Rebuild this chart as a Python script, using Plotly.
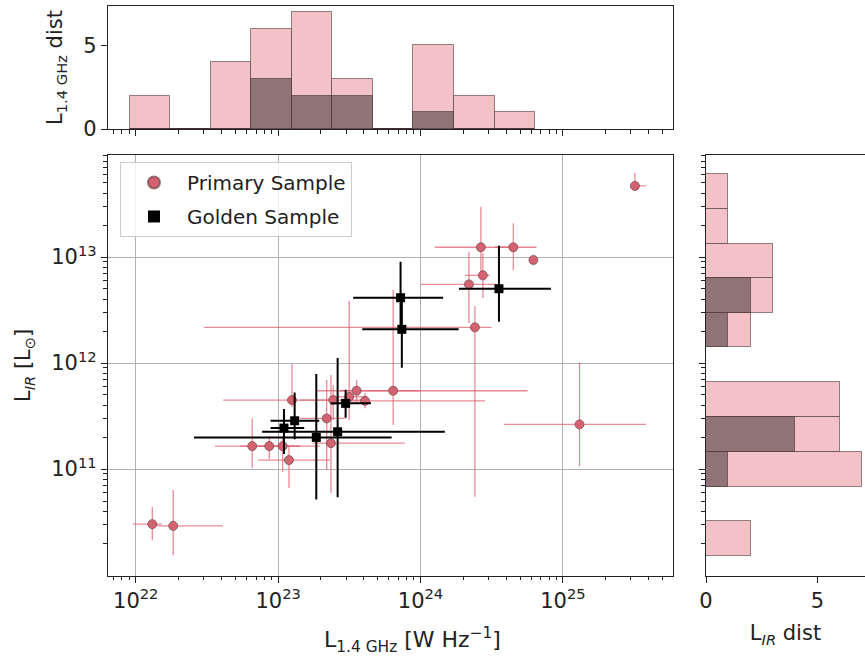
import numpy as np
import plotly.graph_objects as go

# ---------------- data (log10 values) ----------------
# Primary sample: L_1.4GHz [W/Hz] and L_IR [Lsun], with lower/upper error-bar ends
prim_logL14 = [22.116, 22.263, 22.818, 22.938, 23.032, 23.076, 23.097, 23.341, 23.371, 23.387, 23.499,
               23.551, 23.610, 23.808, 24.424, 24.652, 24.793, 24.438, 24.340, 24.382, 25.506, 25.117]
prim_logL14_lo = [21.980, 22.149, 22.556, 22.732, 22.802, 22.860, 22.614, 23.153, 23.244, 23.153, 23.399,
                  23.270, 23.434, 23.434, 24.101, 24.522, 24.793, 24.312, 24.003, 22.479, 25.485, 24.586]
prim_logL14_hi = [22.184, 22.612, 23.153, 23.153, 23.294, 23.364, 23.364, 23.469, 23.890, 23.645, 23.610,
                  23.996, 24.452, 24.752, 24.628, 24.815, 24.793, 24.487, 24.534, 24.499, 25.583, 25.583]
prim_logLIR = [10.481, 10.465, 11.217, 11.217, 11.217, 11.085, 11.651, 11.478, 11.245, 11.651, 11.682,
               11.739, 11.644, 11.739, 13.092, 13.092, 12.972, 12.827, 12.742, 12.337, 13.670, 11.422]
prim_logLIR_lo = [10.330, 10.189, 11.009, 11.094, 10.972, 10.821, 11.585, 10.991, 10.774, 11.462, 11.462,
                  11.632, 11.575, 11.415, 12.830, 12.877, 12.972, 12.613, 12.375, 10.739, 13.642, 11.028]
prim_logLIR_hi = [10.642, 10.802, 11.478, 11.311, 11.311, 11.226, 11.991, 11.840, 11.887, 11.792, 12.585,
                  11.840, 11.717, 12.689, 13.475, 13.318, 12.972, 13.038, 13.050, 12.538, 13.792, 12.007]

# Golden sample
gold_logL14 = [24.551, 23.860, 23.869, 23.474, 23.418, 23.041, 23.116, 23.268]
gold_logL14_lo = [24.277, 23.534, 23.598, 23.376, 22.895, 22.954, 22.954, 22.416]
gold_logL14_hi = [24.909, 24.152, 24.261, 23.645, 24.164, 23.176, 23.282, 23.790]
gold_logLIR = [12.701, 12.616, 12.318, 11.620, 11.352, 11.387, 11.456, 11.299]
gold_logLIR_lo = [12.399, 12.311, 11.965, 11.493, 10.745, 11.151, 11.290, 10.724]
gold_logLIR_hi = [13.097, 12.946, 12.623, 11.739, 12.038, 11.557, 11.714, 11.887]

# Histograms (bin edges in log10 units, counts)
l14_bin_edges = [21.959, 22.242, 22.527, 22.811, 23.095, 23.378, 23.665, 23.949, 24.233, 24.521, 24.806]
l14_counts_primary = [2, 0, 4, 6, 7, 3, 0, 5, 2, 1]
l14_counts_golden = [0, 0, 0, 3, 2, 2, 0, 1, 0, 0]

lir_bin_edges = [10.182, 10.509, 10.836, 11.163, 11.493, 11.826, 12.148, 12.475, 12.799, 13.122, 13.450, 13.780]
lir_counts_primary = [2, 0, 7, 6, 6, 0, 2, 3, 3, 1, 1]
lir_counts_golden = [0, 0, 1, 4, 0, 0, 1, 2, 0, 0, 0]

x_tick_labels = ["10<sup>22</sup>", "10<sup>23</sup>", "10<sup>24</sup>", "10<sup>25</sup>"]
y_tick_labels = ["10<sup>11</sup>", "10<sup>12</sup>", "10<sup>13</sup>"]

# ---------------- helpers ----------------
def errs(logv, lo, hi):
    v = 10 ** np.array(logv)
    return v, v - 10 ** np.array(lo), 10 ** np.array(hi) - v

XR = [21.805, 25.770]
YR = [9.995, 13.962]

px, pxm, pxp = errs(prim_logL14, prim_logL14_lo, prim_logL14_hi)
py, pym, pyp = errs(prim_logLIR, prim_logLIR_lo, prim_logLIR_hi)
gx, gxm, gxp = errs(gold_logL14, gold_logL14_lo, gold_logL14_hi)
gy, gym, gyp = errs(gold_logLIR, gold_logLIR_lo, gold_logLIR_hi)

PINK = "rgb(212,98,112)"
PINK_ERR = "rgba(222,100,115,0.75)"
HIST_PINK = "rgb(242,194,198)"
HIST_GOLD = "rgb(143,115,117)"
EDGE = "rgba(60,40,40,0.55)"
AX = "#222222"
FS = 21

fig = go.Figure()

fig.add_trace(go.Scatter(
    x=px, y=py, mode="markers", name="Primary Sample", legendgroup="p",
    marker=dict(symbol="circle", size=9, color=PINK, line=dict(color="rgba(110,70,75,0.7)", width=1)),
    error_x=dict(type="data", symmetric=False, array=pxp, arrayminus=pxm, color=PINK_ERR, thickness=1.3, width=0),
    error_y=dict(type="data", symmetric=False, array=pyp, arrayminus=pym, color=PINK_ERR, thickness=1.3, width=0),
    xaxis="x", yaxis="y"))

fig.add_trace(go.Scatter(
    x=gx, y=gy, mode="markers", name="Golden Sample", legendgroup="g",
    marker=dict(symbol="square", size=9, color="black"),
    error_x=dict(type="data", symmetric=False, array=gxp, arrayminus=gxm, color="black", thickness=2, width=1),
    error_y=dict(type="data", symmetric=False, array=gyp, arrayminus=gym, color="black", thickness=2, width=1),
    xaxis="x", yaxis="y"))

# top histogram
e = np.array(l14_bin_edges)
cx = (e[:-1] + e[1:]) / 2
wx = np.diff(e)
fig.add_trace(go.Bar(x=cx, y=l14_counts_primary, width=wx, marker=dict(color=HIST_PINK, line=dict(color=EDGE, width=1)),
                     showlegend=False, xaxis="x2", yaxis="y2"))
fig.add_trace(go.Bar(x=cx, y=l14_counts_golden, width=wx, marker=dict(color=HIST_GOLD, line=dict(color=EDGE, width=1)),
                     showlegend=False, xaxis="x2", yaxis="y2"))

# right histogram
e = np.array(lir_bin_edges)
cy = (e[:-1] + e[1:]) / 2
wy = np.diff(e)
fig.add_trace(go.Bar(y=cy, x=lir_counts_primary, width=wy, orientation="h",
                     marker=dict(color=HIST_PINK, line=dict(color=EDGE, width=1)),
                     showlegend=False, xaxis="x3", yaxis="y3"))
fig.add_trace(go.Bar(y=cy, x=lir_counts_golden, width=wy, orientation="h",
                     marker=dict(color=HIST_GOLD, line=dict(color=EDGE, width=1)),
                     showlegend=False, xaxis="x3", yaxis="y3"))

def minor_vals(lo, hi, log=True):
    vals = []
    for n in range(int(np.floor(lo)), int(np.ceil(hi)) + 1):
        for k in range(2, 10):
            v = np.log10(k) + n
            if lo <= v <= hi:
                vals.append(10 ** v if log else v)
    return vals

W, H = 865, 661
dom_main_x = [108 / W, 672.5 / W]
dom_main_y = [1 - 575.7 / H, 1 - 155 / H]
dom_top_y = [1 - 129 / H, 1 - 6 / H]
dom_right_x = [706 / W, 1.0]

common = dict(showline=True, linecolor=AX, linewidth=1.2, ticks="outside", ticklen=6, tickwidth=1,
              tickcolor=AX, zeroline=False, automargin=False, tickfont=dict(size=FS, color=AX))
minor_common = dict(tickmode="array", ticks="outside", ticklen=3.5, tickcolor=AX, showgrid=False)

fig.update_layout(
    width=W, height=H, margin=dict(l=0, r=0, t=0, b=0, autoexpand=False),
    paper_bgcolor="white", plot_bgcolor="white",
    font=dict(family="DejaVu Sans", color=AX, size=FS),
    barmode="overlay", bargap=0,
    xaxis=dict(type="log", range=XR, domain=dom_main_x, anchor="y", mirror=True,
               tickmode="array", tickvals=[1e22, 1e23, 1e24, 1e25], ticktext=x_tick_labels,
               showgrid=True, gridcolor="#b0b0b0", gridwidth=1,
               minor=dict(tickvals=minor_vals(*XR), **minor_common),
               **common),
    yaxis=dict(type="log", range=YR, domain=dom_main_y, anchor="x", mirror=True,
               tickmode="array", tickvals=[1e11, 1e12, 1e13], ticktext=y_tick_labels,
               showgrid=True, gridcolor="#b0b0b0", gridwidth=1,
               minor=dict(tickvals=minor_vals(*YR), **minor_common),
               title=dict(text="L<sub><i>IR</i></sub> [L<sub>⊙</sub>]", font=dict(size=FS), standoff=14),
               **common),
    xaxis2=dict(range=XR, domain=dom_main_x, anchor="y2", mirror=True, showticklabels=False,
                tickmode="array", tickvals=[22, 23, 24, 25], showgrid=False,
                minor=dict(tickvals=minor_vals(*XR, log=False), **minor_common),
                **common),
    yaxis2=dict(range=[0, 7.35], domain=dom_top_y, anchor="x2", mirror=True,
                tickmode="array", tickvals=[0, 5], showgrid=False,
                title=dict(text="L<sub>1.4 GHz</sub> dist", font=dict(size=FS), standoff=14),
                **common),
    xaxis3=dict(range=[0, 7.13], domain=dom_right_x, anchor="y3", mirror=True,
                tickmode="array", tickvals=[0, 5], showgrid=False,
                title=dict(text="L<sub><i>IR</i></sub> dist", font=dict(size=FS), standoff=13),
                **common),
    yaxis3=dict(range=YR, domain=dom_main_y, anchor="x3", mirror=True, showticklabels=False,
                tickmode="array", tickvals=[11, 12, 13], showgrid=False,
                minor=dict(tickvals=minor_vals(*YR, log=False), **minor_common),
                **common),
    legend=dict(x=120 / W, y=1 - 162 / H, xanchor="left", yanchor="top",
                bordercolor="#cccccc", borderwidth=1, bgcolor="rgba(255,255,255,0.8)",
                font=dict(size=20, color=AX), itemsizing="constant", itemwidth=56,
                traceorder="grouped", tracegroupgap=5),
    annotations=[dict(text="L<sub>1.4 GHz</sub> [W Hz<sup>−1</sup>]", xref="paper", yref="paper",
                      x=412 / W, y=1 - 640 / H, xanchor="center", yanchor="middle",
                      showarrow=False, font=dict(size=22, color=AX))],
)

fig.write_html("out.html")
